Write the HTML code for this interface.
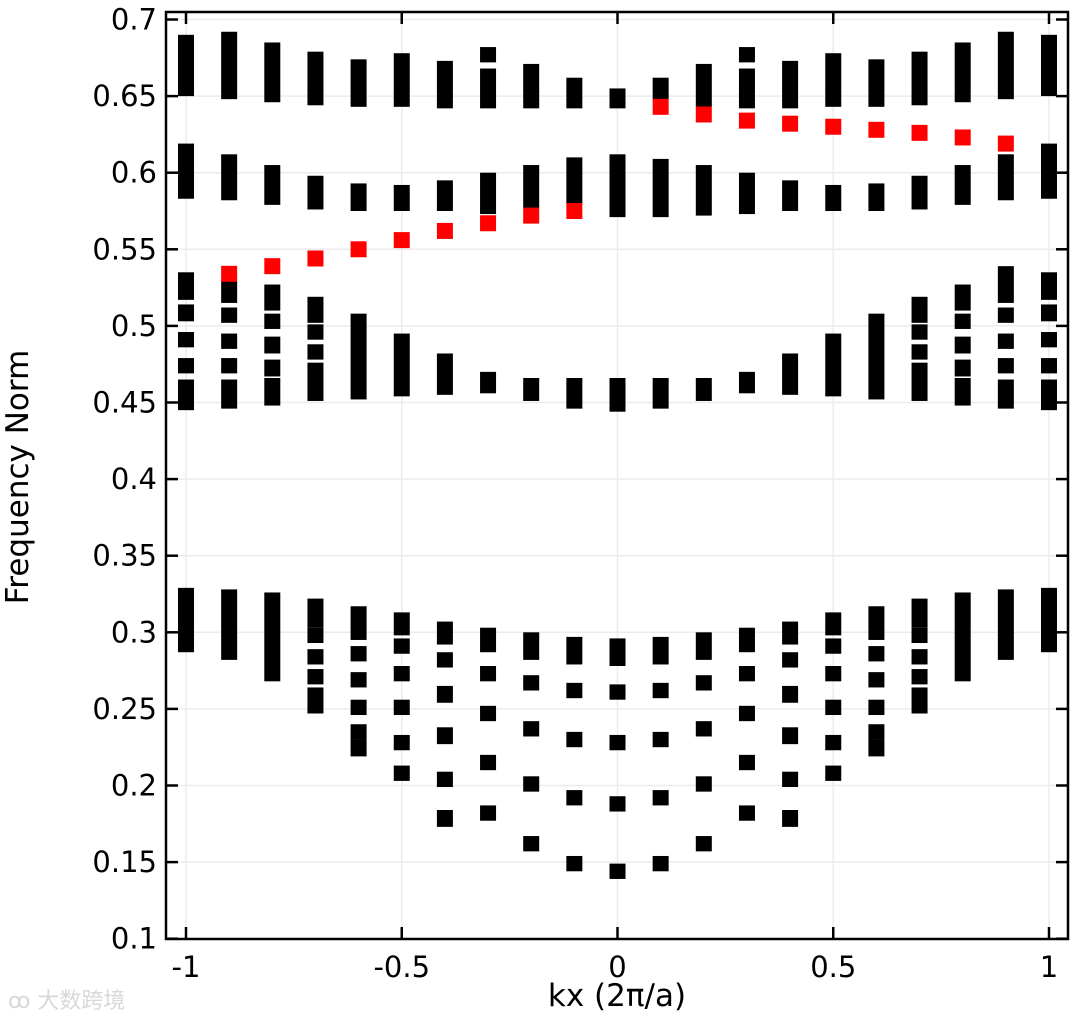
<!DOCTYPE html>
<html><head><meta charset="utf-8"><style>
html,body{margin:0;padding:0;background:#fff;width:1080px;height:1020px;overflow:hidden}
svg{display:block}
text{font-family:"DejaVu Sans","Liberation Sans",sans-serif}
</style></head><body>
<svg id="chart" width="1080" height="1020" viewBox="0 0 1080 1020" xmlns="http://www.w3.org/2000/svg">
<g id="grid"></g>
<g id="marks"></g>
<rect x="166" y="12" width="902" height="927" fill="none" stroke="#000" stroke-width="2.5"/>
<g id="ticks"></g>
<text x="617" y="1006" font-size="31" text-anchor="middle">kx (2π/a)</text>
<text transform="translate(28,477) rotate(-90)" font-size="31" text-anchor="middle">Frequency Norm</text>
<text x="8" y="1008" font-size="22" fill="#d8d8d8" font-family="'Liberation Sans','Noto Sans CJK SC',sans-serif">ꝏ 大数跨境</text>
</svg>
<script>
const kx=[-1,-0.9,-0.8,-0.7,-0.6,-0.5,-0.4,-0.3,-0.2,-0.1,0,0.1,0.2,0.3,0.4,0.5,0.6,0.7,0.8,0.9,1];
const topBand=[
[[0.690,0.650]],[[0.692,0.648]],[[0.685,0.646]],[[0.679,0.644]],[[0.674,0.643]],[[0.678,0.643]],[[0.673,0.642]],[[0.682,0.672],[0.668,0.642]],[[0.671,0.642]],[[0.662,0.642]],[[0.655,0.642]],
[[0.662,0.648]],[[0.671,0.643]],[[0.682,0.672],[0.668,0.642]],[[0.673,0.642]],[[0.678,0.643]],[[0.674,0.643]],[[0.679,0.644]],[[0.685,0.646]],[[0.692,0.648]],[[0.690,0.650]]];
const band2=[
[[0.619,0.583]],[[0.612,0.582]],[[0.605,0.579]],[[0.598,0.576]],[[0.593,0.575]],[[0.592,0.575]],[[0.595,0.575]],[[0.600,0.573]],[[0.605,0.577]],[[0.610,0.580]],[[0.612,0.571]],
[[0.609,0.571]],[[0.605,0.572]],[[0.600,0.573]],[[0.595,0.575]],[[0.592,0.575]],[[0.593,0.575]],[[0.598,0.576]],[[0.605,0.579]],[[0.612,0.582]],[[0.619,0.583]]];
const band3=[
[[0.535,0.517],[0.514,0.503],[0.496,0.486],[0.479,0.469],[0.465,0.445]],
[[0.529,0.515],[0.512,0.502],[0.495,0.485],[0.479,0.469],[0.465,0.446]],
[[0.527,0.510],[0.508,0.498],[0.493,0.482],[0.478,0.467],[0.466,0.448]],
[[0.519,0.502],[0.501,0.491],[0.488,0.478],[0.476,0.451]],
[[0.508,0.452]],[[0.495,0.454]],[[0.482,0.455]],[[0.470,0.456]],[[0.466,0.451]],[[0.466,0.446]],[[0.466,0.444]],
[[0.466,0.446]],[[0.466,0.451]],[[0.470,0.456]],[[0.482,0.455]],[[0.495,0.454]],[[0.508,0.452]],
[[0.519,0.502],[0.501,0.491],[0.488,0.478],[0.476,0.451]],
[[0.527,0.510],[0.508,0.498],[0.493,0.482],[0.478,0.467],[0.466,0.448]],
[[0.539,0.515],[0.512,0.502],[0.495,0.485],[0.479,0.469],[0.465,0.446]],
[[0.535,0.517],[0.514,0.503],[0.496,0.486],[0.479,0.469],[0.465,0.445]]];
const lowBand=[
[[0.329,0.287]],[[0.328,0.282]],[[0.326,0.268]],
[[0.322,0.303],[0.303,0.293],[0.289,0.279],[0.276,0.266],[0.264,0.247]],
[[0.317,0.295],[0.291,0.281],[0.274,0.264],[0.256,0.246],[0.240,0.230],[0.230,0.219]],
[[0.313,0.298],[0.296,0.286],[0.278,0.268],[0.256,0.246],[0.233,0.223],[0.213,0.203]],
[[0.307,0.292],[0.287,0.277],[0.265,0.254],[0.238,0.227],[0.209,0.199],[0.184,0.173]],
[[0.303,0.287],[0.278,0.268],[0.252,0.242],[0.220,0.210],[0.187,0.177]],
[[0.300,0.282],[0.272,0.262],[0.242,0.232],[0.206,0.196],[0.167,0.157]],
[[0.297,0.279],[0.267,0.257],[0.235,0.225],[0.197,0.187],[0.154,0.144]],
[[0.296,0.278],[0.266,0.256],[0.233,0.223],[0.193,0.183],[0.149,0.139]],
[[0.297,0.279],[0.267,0.257],[0.235,0.225],[0.197,0.187],[0.154,0.144]],
[[0.300,0.282],[0.272,0.262],[0.242,0.232],[0.206,0.196],[0.167,0.157]],
[[0.303,0.287],[0.278,0.268],[0.252,0.242],[0.220,0.210],[0.187,0.177]],
[[0.307,0.292],[0.287,0.277],[0.265,0.254],[0.238,0.227],[0.209,0.199],[0.184,0.173]],
[[0.313,0.298],[0.296,0.286],[0.278,0.268],[0.256,0.246],[0.233,0.223],[0.213,0.203]],
[[0.317,0.295],[0.291,0.281],[0.274,0.264],[0.256,0.246],[0.240,0.230],[0.230,0.219]],
[[0.322,0.303],[0.303,0.293],[0.289,0.279],[0.276,0.266],[0.264,0.247]],
[[0.326,0.268]],[[0.328,0.282]],[[0.329,0.287]]];
const redKx=[-0.9,-0.8,-0.7,-0.6,-0.5,-0.4,-0.3,-0.2,-0.1,0.1,0.2,0.3,0.4,0.5,0.6,0.7,0.8,0.9];
const redFreq=[0.534,0.539,0.544,0.550,0.556,0.562,0.567,0.572,0.575,0.643,0.638,0.634,0.632,0.630,0.628,0.626,0.623,0.619];
const xTicks=[-1,-0.5,0,0.5,1];
const xTickLabels=["-1","-0.5","0","0.5","1"];
const yTicks=[0.1,0.15,0.2,0.25,0.3,0.35,0.4,0.45,0.5,0.55,0.6,0.65,0.7];
const yTickLabels=["0.1","0.15","0.2","0.25","0.3","0.35","0.4","0.45","0.5","0.55","0.6","0.65","0.7"];

const NS="http://www.w3.org/2000/svg";
const X0=166,X1=1068,Y0=12,Y1=939;
function xs(v){return 617.5+v*431.5;}
function ys(v){return 19.5+(0.7-v)*1532;}
function mk(tag,attrs,parent){const e=document.createElementNS(NS,tag);for(const k in attrs)e.setAttribute(k,attrs[k]);parent.appendChild(e);return e;}
const grid=document.getElementById('grid'),marks=document.getElementById('marks'),ticks=document.getElementById('ticks');
xTicks.forEach((v,i)=>{
  const g=mk('line',{x1:xs(v),x2:xs(v),y1:Y0,y2:Y1,stroke:'#ebebeb','stroke-width':1.5},grid);
  
  
  const t1=mk('line',{x1:xs(v),x2:xs(v),y1:Y1,y2:Y1-12,stroke:'#000','stroke-width':2.5},ticks);
  
  
  const t2=mk('line',{x1:xs(v),x2:xs(v),y1:Y0,y2:Y0+12,stroke:'#000','stroke-width':2.5},ticks);
  
  
  const l=mk('text',{x:xs(v),y:977,'font-size':29,'text-anchor':'middle'},ticks);
  l.textContent=xTickLabels[i];
  
  
});
yTicks.forEach((v,i)=>{
  const g=mk('line',{x1:X0,x2:X1,y1:ys(v),y2:ys(v),stroke:'#ebebeb','stroke-width':1.5},grid);
  
  
  const t1=mk('line',{x1:X0,x2:X0+12,y1:ys(v),y2:ys(v),stroke:'#000','stroke-width':2.5},ticks);
  
  
  const t2=mk('line',{x1:X1,x2:X1-12,y1:ys(v),y2:ys(v),stroke:'#000','stroke-width':2.5},ticks);
  
  
  const l=mk('text',{x:157,y:ys(v)+10,'font-size':29,'text-anchor':'end'},ticks);
  l.textContent=yTickLabels[i];
  
  
});
function seg(k,hi,lo,color,name){
  const r=mk('rect',{x:xs(k)-8,y:ys(hi),width:16,height:Math.max(1,ys(lo)-ys(hi)),fill:color},marks);
  
  
}
[[topBand,'band-4-marker'],[band2,'band-3-marker'],[band3,'band-2-marker'],[lowBand,'band-1-marker']].forEach(([band,name])=>{
  band.forEach((segs,i)=>segs.forEach(s=>seg(kx[i],s[0],s[1],'#000',name)));
});
redKx.forEach((k,i)=>{
  const r=mk('rect',{x:xs(k)-8,y:ys(redFreq[i])-8,width:16,height:16,fill:'#ff0000'},marks);
  
  
});
</script>
</body></html>
